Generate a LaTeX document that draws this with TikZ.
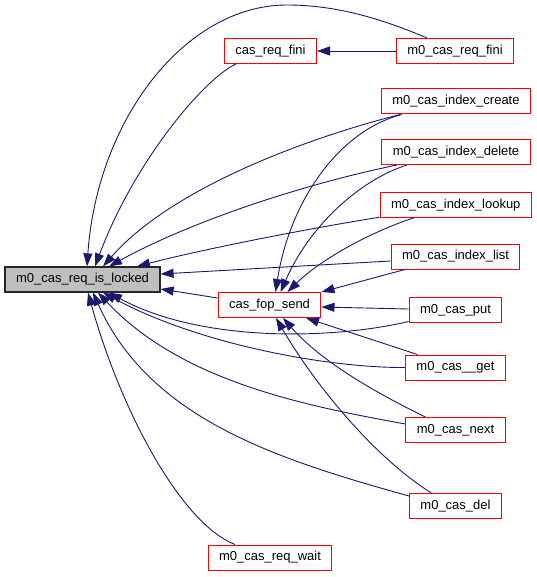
\documentclass[tikz,border=0pt]{standalone}
\usepackage{fontspec}
\setmainfont{Liberation Sans}
\usetikzlibrary{arrows.meta}
\definecolor{edgeblue}{RGB}{25,25,112}
\definecolor{boxgray}{RGB}{191,191,191}
\definecolor{boxred}{RGB}{255,0,0}

\begin{document}
\begin{tikzpicture}[x=1pt, y=-1pt,
  every node/.style={inner xsep=11pt, inner ysep=0pt, minimum height=25pt,
                     font=\fontsize{13}{15}\selectfont},
  fn/.style={draw=boxred, fill=white, line width=1pt},
  cur/.style={draw=black!85, fill=boxgray, line width=1.2pt},
  arrow/.style={-{Triangle[length=13pt, width=9pt]}, edgeblue, line width=0.9pt}]
\useasboundingbox (0,0) rectangle (536,577);

\node[cur] (locked)   at (82.5,279.5) {m0\_cas\_req\_is\_locked};
\node[fn]  (reqfini)  at (270.5,51)   {cas\_req\_fini};
\node[fn]  (mreqfini) at (455,51)     {m0\_cas\_req\_fini};
\node[fn]  (icreate)  at (456,101.5)  {m0\_cas\_index\_create};
\node[fn]  (idelete)  at (456,152)    {m0\_cas\_index\_delete};
\node[fn]  (ilookup)  at (455.8,204.7) {m0\_cas\_index\_lookup};
\node[fn]  (ilist)    at (455.5,256.5) {m0\_cas\_index\_list};
\node[fn]  (fopsend)  at (269.5,305)  {cas\_fop\_send};
\node[fn]  (put)      at (455.5,310)  {m0\_cas\_put};
\node[fn]  (get)      at (455.5,367.5) {m0\_cas\_\_get};
\node[fn]  (next)     at (455.5,430)  {m0\_cas\_next};
\node[fn]  (del)      at (455.5,506)  {m0\_cas\_del};
\node[fn]  (reqwait)  at (270,557.5)  {m0\_cas\_req\_wait};

\draw[arrow] ([xshift=-28pt]mreqfini.north) .. controls (380,18) and (335,5) .. (287,5)
  .. controls (185,5) and (97,120) .. ([xshift=4.5pt]locked.north);
\draw[arrow] ([xshift=-34.5pt]reqfini.south) .. controls (205,78) and (135,160) .. ([xshift=12.5pt]locked.north);
\draw[arrow] (mreqfini) -- (reqfini);
\draw[arrow] ([xshift=-56pt]icreate.south) .. controls (300,140) and (170,190) .. ([xshift=20.5pt]locked.north);
\draw[arrow] ([xshift=-54pt]icreate.south) .. controls (340,130) and (290,200) .. ([xshift=6pt]fopsend.north);
\draw[arrow] ([xshift=-59pt]idelete.south) .. controls (300,185) and (190,222) .. ([xshift=26.5pt]locked.north);
\draw[arrow] ([xshift=-49pt]idelete.south) .. controls (360,180) and (310,225) .. ([xshift=11pt]fopsend.north);
\draw[arrow] ([yshift=0.5pt]ilookup.south west) .. controls (300,230) and (200,250) .. ([xshift=54.5pt]locked.north);
\draw[arrow] ([xshift=-41.5pt]ilookup.south) .. controls (370,232) and (320,260) .. ([xshift=18pt]fopsend.north);
\draw[arrow] ([yshift=-4.5pt]ilist.west) -- ([yshift=5.5pt]locked.east);
\draw[arrow] ([xshift=-50.5pt]ilist.south) -- (fopsend.north east);
\draw[arrow] ([yshift=7pt]fopsend.west) -- ([yshift=-9.5pt]locked.east);
\draw[arrow] ([yshift=1pt]put.west) -- ([yshift=-2pt]fopsend.east);
\draw[arrow] ([yshift=-11.5pt]put.west) .. controls (330,340) and (200,342) .. ([xshift=26.5pt]locked.south);
\draw[arrow] ([xshift=-38pt]get.north) -- ([xshift=36.5pt]fopsend.south);
\draw[arrow] (get.west) .. controls (330,368) and (200,345) .. ([xshift=20.5pt]locked.south);
\draw[arrow] ([xshift=-30pt]next.north) .. controls (370,390) and (320,360) .. ([xshift=13.5pt]fopsend.south);
\draw[arrow] ([yshift=6pt]next.west) .. controls (300,405) and (180,380) .. ([xshift=15.5pt]locked.south);
\draw[arrow] ([xshift=-24pt]del.north) .. controls (375,458) and (315,385) .. ([xshift=6.5pt]fopsend.south);
\draw[arrow] ([yshift=10pt]del.west) .. controls (280,460) and (150,420) .. ([xshift=10.5pt]locked.south);
\draw[arrow] ([xshift=-35pt]reqwait.north) .. controls (180,523) and (120,408) .. ([xshift=5.5pt]locked.south);
\end{tikzpicture}
\end{document}
